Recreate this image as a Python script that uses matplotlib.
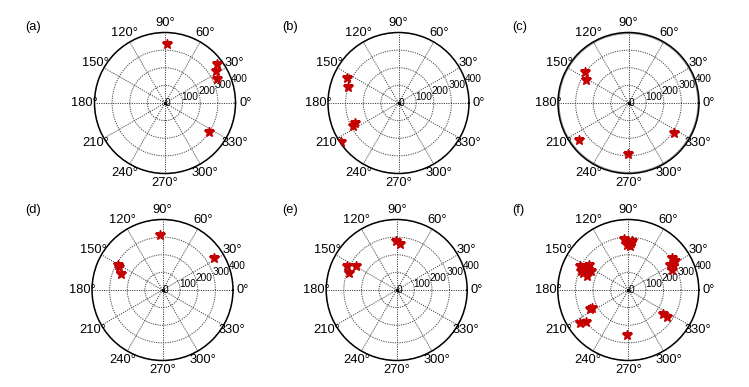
import numpy as np
import matplotlib
matplotlib.use("Agg")
import matplotlib.pyplot as plt

plt.rcParams['font.family'] = ['Liberation Sans', 'DejaVu Sans']

W, H = 749, 387
panel_labels = ['(a)', '(b)', '(c)', '(d)', '(e)', '(f)']

# angles in degrees, radial values
theta_a = [88, 37, 32, 25]
r_a = [334, 369, 343, 325]
theta_a = theta_a + [327]
r_a = r_a + [301]

theta_b = [154, 162, 205, 207, 214]
r_b = [322, 300, 275, 289, 396]

theta_c = [144.5, 152, 217, 269, 326]
r_c = [305, 275, 352, 291, 308]

theta_d = [92.5, 32, 150.5, 152, 159]
r_d = [311, 343, 290, 280, 253]

theta_e = [91, 86, 154, 149, 160]
r_e = [276, 262, 314, 267, 285]

theta_f = [95, 90, 87, 92, 88, 86,
           36, 32, 31, 25, 28,
           154, 155, 147, 160, 161, 153, 158, 152,
           207, 206, 214, 217, 268, 326, 325]
r_f = [292, 276, 267, 257, 248, 277,
       307, 315, 274, 273, 287,
       306, 273, 265, 274, 248, 236, 288, 258,
       242, 227, 332, 304, 253, 240, 267]

data = [(theta_a, r_a), (theta_b, r_b), (theta_c, r_c),
        (theta_d, r_d), (theta_e, r_e), (theta_f, r_f)]

rticks = [0, 100, 200, 300, 400]
angle_ticks = list(range(0, 360, 30))
angle_labels = [f"{a}°" for a in angle_ticks]

centers = [(165, 103), (398.5, 103), (628.5, 103),
           (162.5, 290), (396.7, 290), (628.3, 290)]
label_pos = [(33, 27), (290, 27), (520, 27), (33, 210), (290, 210), (518, 210)]
R = 70.5

fig = plt.figure(figsize=(W / 100, H / 100), dpi=100)

for i, ((th, rr), (cx, cy), lab, (lx, ly)) in enumerate(zip(data, centers, panel_labels, label_pos)):
    ax = fig.add_axes([(cx - R) / W, 1 - (cy + R) / H, 2 * R / W, 2 * R / H], projection='polar')
    ax.set_ylim(0, 400)
    ax.set_xticks(np.deg2rad(angle_ticks))
    ax.set_xticklabels([])
    ax.set_yticks(rticks[1:])
    ax.set_yticklabels([])
    ax.grid(True, color='#444444', linestyle=(0, (1.2, 1.2)), linewidth=0.7)
    ax.spines['polar'].set_color('black')
    ax.spines['polar'].set_linewidth(1.1)
    ax.tick_params(length=0)
    if i == 2:
        tt = np.linspace(0, 2 * np.pi, 361)
        ax.plot(tt, np.full_like(tt, 394), color='#999999', lw=0.8, zorder=1)
    for a, l in zip(angle_ticks, angle_labels):
        ax.text(np.deg2rad(a), 456, l, ha='center', va='center', fontsize=9.3, clip_on=False)
    for rv in rticks:
        ax.text(np.deg2rad(20), rv, str(rv), ha='left', va='center', fontsize=7.3, clip_on=False)
    ax.plot(0, 0, 'k.', ms=3)
    ax.plot(np.deg2rad(th), rr, linestyle='none', marker='*', ms=7.5,
            color='#c40000', markeredgecolor='#c40000', zorder=5)
    fig.text(lx / W, 1 - ly / H, lab, ha='center', va='center', fontsize=9.3)

fig.savefig('out.png', dpi=100)
